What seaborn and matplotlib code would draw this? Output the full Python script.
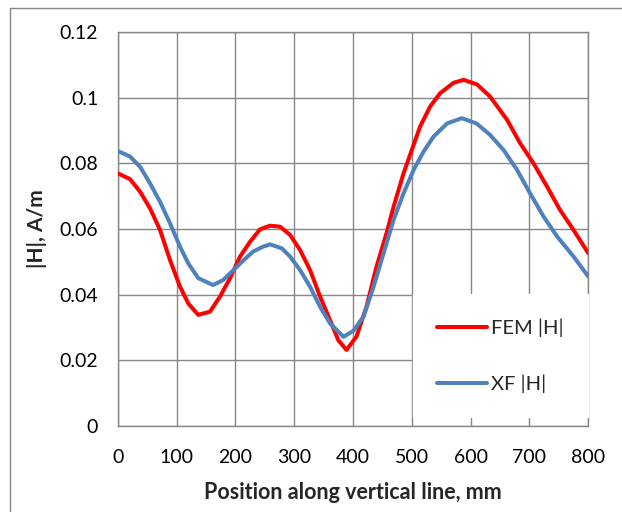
import pandas as pd
import seaborn as sns
import matplotlib.pyplot as plt
from matplotlib.lines import Line2D

# FEM |H|
fem_x = [0, 21, 38, 55, 72, 89, 106, 120, 137, 157, 174, 191, 208, 225, 242, 259, 276, 293,
         310, 327, 344, 361, 375, 389, 406, 423, 440, 457, 469, 486, 500, 514, 531, 548,
         571, 588, 611, 633, 662, 684, 707, 730, 752, 775, 800]
fem_y = [0.0770, 0.0752, 0.0714, 0.0663, 0.0597, 0.0505, 0.0424, 0.0373, 0.0338, 0.0348,
         0.0394, 0.0450, 0.0516, 0.0561, 0.0599, 0.0610, 0.0607, 0.0582, 0.0536, 0.0475,
         0.0394, 0.0322, 0.0261, 0.0231, 0.0272, 0.0363, 0.0485, 0.0587, 0.0668, 0.0770,
         0.0841, 0.0912, 0.0973, 0.1014, 0.1046, 0.1055, 0.1041, 0.1004, 0.0933, 0.0862,
         0.0800, 0.0729, 0.0658, 0.0597, 0.0526]

# XF |H|
xf_x = [0, 21, 38, 55, 72, 89, 106, 120, 137, 162, 179, 196, 213, 230, 247, 259, 279, 293,
        310, 327, 344, 361, 384, 401, 418, 435, 452, 469, 486, 503, 520, 537, 560, 585,
        610, 633, 656, 679, 701, 724, 747, 775, 800]
xf_y = [0.0838, 0.0821, 0.0790, 0.0739, 0.0683, 0.0617, 0.0546, 0.0495, 0.0450, 0.0429,
        0.0444, 0.0473, 0.0503, 0.0531, 0.0546, 0.0553, 0.0541, 0.0516, 0.0475, 0.0424,
        0.0363, 0.0312, 0.0271, 0.0290, 0.0333, 0.0424, 0.0526, 0.0628, 0.0709, 0.0780,
        0.0836, 0.0882, 0.0922, 0.0938, 0.0922, 0.0887, 0.0841, 0.0780, 0.0709, 0.0638,
        0.0577, 0.0516, 0.0455]

series_names = ['FEM |H|', 'XF |H|']
series_colors = ['#ff0000', '#4f81bd']

sns.set_style('white')
plt.rcParams['font.family'] = ['Lato', 'DejaVu Sans']

grid_col = '#868686'

fig = plt.figure(figsize=(6.22, 5.12), dpi=100)
ax = fig.add_axes([0.1892, 0.1686, 0.7566, 0.7683])

df = pd.concat([
    pd.DataFrame({'pos': fem_x, 'H': fem_y, 'series': series_names[0]}),
    pd.DataFrame({'pos': xf_x, 'H': xf_y, 'series': series_names[1]}),
])
sns.lineplot(data=df, x='pos', y='H', hue='series', palette=series_colors,
             linewidth=2.9, sort=False, ax=ax, legend=False, zorder=3)

ax.set_xlim(0, 800)
ax.set_ylim(0, 0.12)
ax.set_xticks(range(0, 801, 100))
ax.set_yticks([0, 0.02, 0.04, 0.06, 0.08, 0.1, 0.12])
ax.set_yticklabels(['0', '0.02', '0.04', '0.06', '0.08', '0.1', '0.12'])
ax.grid(True, color=grid_col, linewidth=1.0)
ax.set_axisbelow(True)
for s in ax.spines.values():
    s.set_color(grid_col)
    s.set_linewidth(1.0)
ax.tick_params(axis='both', direction='out', length=5, width=1.0, color=grid_col,
               labelsize=14, labelcolor='black')
ax.tick_params(axis='x', pad=12)
ax.tick_params(axis='y', pad=9)

ax.set_xlabel('Position along vertical line, mm', fontsize=15.5, fontweight='bold', labelpad=11)
ax.set_ylabel('|H|, A/m', fontsize=15, fontweight='bold', labelpad=9)

handles = [Line2D([], [], color=c, linewidth=2.9) for c in series_colors]
leg = ax.legend(handles, series_names, loc='upper left', bbox_to_anchor=(0.627, 0.335),
                fontsize=14.5, handlelength=2.5, handletextpad=0.2, labelspacing=1.9,
                borderpad=1.2, borderaxespad=0, frameon=True, fancybox=False,
                framealpha=1, facecolor='white', edgecolor='white')

# outer chart border (only left and top visible in the crop)
fig.add_artist(Line2D([0.016, 0.016], [0.0, 0.984], transform=fig.transFigure,
                      color=grid_col, linewidth=1.0))
fig.add_artist(Line2D([0.016, 1.0], [0.984, 0.984], transform=fig.transFigure,
                      color=grid_col, linewidth=1.0))

fig.savefig('out.png', dpi=100)
